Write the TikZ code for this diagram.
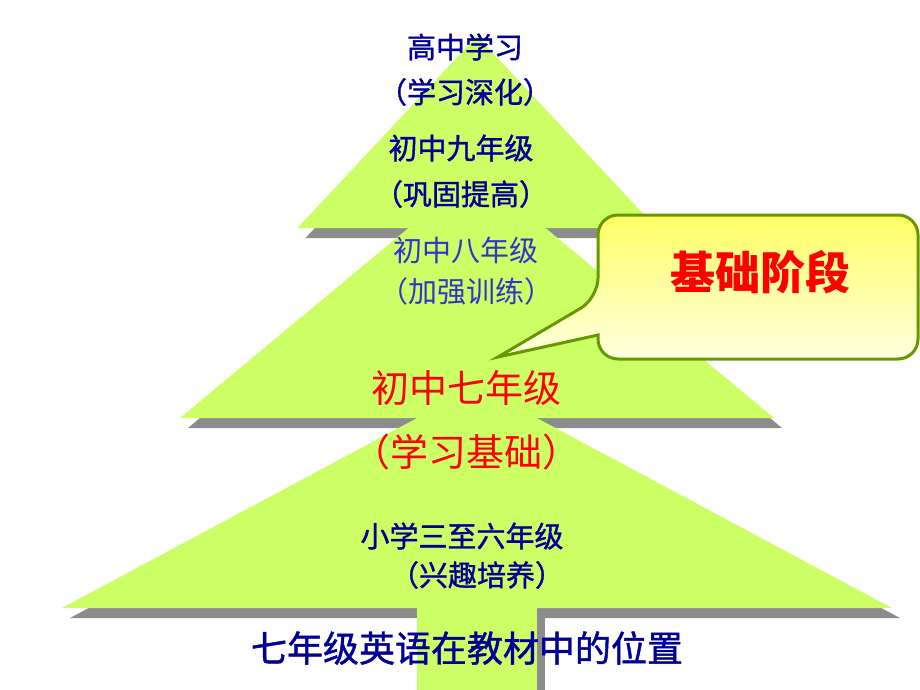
\documentclass[tikz,border=0pt]{standalone}
\usepackage{fontspec}
\setmainfont{Noto Sans CJK SC}
\newfontfamily\heavycjk[FakeBold=1.2]{Noto Sans CJK SC}
\definecolor{leafgreen}{RGB}{204,255,102}
\definecolor{navyblue}{RGB}{0,0,150}
\definecolor{midblue}{RGB}{51,51,204}
\definecolor{olivegreen}{RGB}{102,153,0}
\definecolor{bubbletop}{RGB}{255,255,100}
\definecolor{bubblebottom}{RGB}{255,255,225}
\begin{document}
\begin{tikzpicture}[x=1pt, y=-1pt,
    treeshadow/.style={fill=black!45},
    treefill/.style={fill=leafgreen},
    navylabel/.style={text=navyblue, font=\heavycjk\fontsize{29}{29}\selectfont},
    redlabel/.style={text=red, font=\fontsize{38}{38}\selectfont}]
    \useasboundingbox (0,0) rectangle (920,690);

    % shadow of the tree
    \begin{scope}[shift={(8,10)}]
        \foreach \ay/\by/\hw in {36/228/179.5,171/418/297,386/608/415} {
            \fill[treeshadow] (477,\ay) -- (477+\hw,\by) -- (477-\hw,\by) -- cycle;
        }
        \fill[treeshadow] (417,600) rectangle (537,690);
    \end{scope}

    % tree
    \foreach \ay/\by/\hw in {36/228/179.5,171/418/297,386/608/415} {
        \fill[treefill] (477,\ay) -- (477+\hw,\by) -- (477-\hw,\by) -- cycle;
    }
    \fill[treefill] (417,600) rectangle (537,690);

    % callout
    \draw[line width=3pt, draw=olivegreen, top color=bubbletop, bottom color=bubblebottom]
        (598,298) -- (498,357) -- (598,335) [rounded corners=20pt] -- (598,359)
        -- (918,359) -- (918,215) -- (598,215) -- cycle;
    \node[text=red, font=\fontsize{45}{45}\bfseries] (stage) at (760,272) {基础阶段};

    \node[navylabel] (senior) at (465,47) {高中学习};
    \node[navylabel] (seniornote) at (465,92) {（学习深化）};
    \node[navylabel] (gradenine) at (461,148) {初中九年级};
    \node[navylabel] (gradeninenote) at (461,194) {（巩固提高）};
    \node[text=midblue, font=\fontsize{29}{29}\selectfont] (gradeeight) at (466,250) {初中八年级};
    \node[text=midblue, font=\fontsize{29}{29}\selectfont] (gradeeightnote) at (466,291) {（加强训练）};
    \node[redlabel] (gradeseven) at (466,388) {初中七年级};
    \node[redlabel] (gradesevennote) at (466,452) {（学习基础）};
    \node[navylabel] (primary) at (462,536) {小学三至六年级};
    \node[navylabel] (primarynote) at (477,575) {（兴趣培养）};
    \node[navylabel, font=\heavycjk\fontsize{36}{36}\selectfont] (caption) at (467,648) {七年级英语在教材中的位置};
\end{tikzpicture}
\end{document}
